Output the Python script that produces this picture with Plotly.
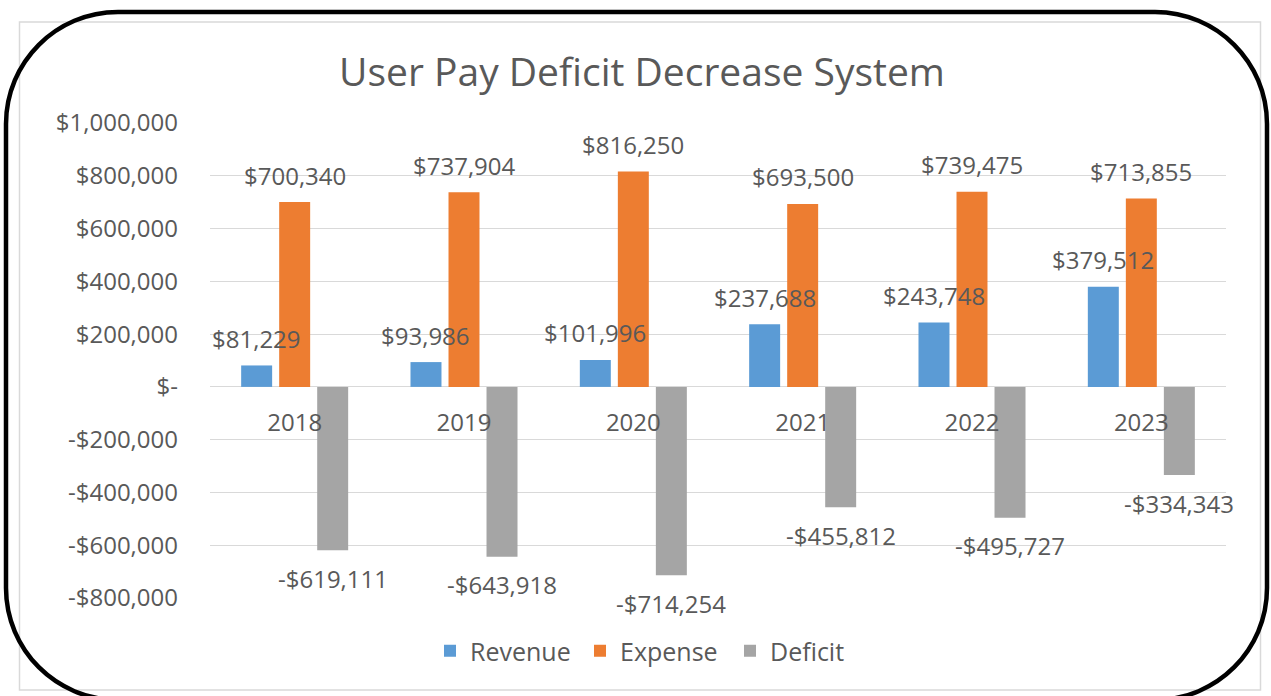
import plotly.graph_objects as go

# ---- data ----
years = ["2018", "2019", "2020", "2021", "2022", "2023"]
revenue = [81229, 93986, 101996, 237688, 243748, 379512]
expense = [700340, 737904, 816250, 693500, 739475, 713855]
deficit = [-619111, -643918, -714254, -455812, -495727, -334343]
y_tick_values = [1000000, 800000, 600000, 400000, 200000, 0,
                 -200000, -400000, -600000, -800000]
y_tick_labels = ["$1,000,000", "$800,000", "$600,000", "$400,000", "$200,000", "$-",
                 "-$200,000", "-$400,000", "-$600,000", "-$800,000"]
series_names = ["Revenue", "Expense", "Deficit"]
series_colors = ["#5B9BD5", "#ED7D31", "#A5A5A5"]
series_values = [revenue, expense, deficit]

# ---- layout constants ----
W, H = 1271, 696
ML, MR, MT, MB = 210, 45, 123, 98
PW, PH = W - ML - MR, H - MT - MB
Y_MIN, Y_MAX = -800000, 1000000
BARGAP = 0.3265
BARGROUPGAP = 0.185
SLOT = (1 - BARGAP) / 3
FONT = "Open Sans"
TXT = "#595959"
GRID = "#D9D9D9"


def money(v):
    return ("-$" if v < 0 else "$") + f"{abs(v):,}"


def px_x(p):
    return (p - ML) / PW


def px_y(p):
    return (H - MB - p) / PH


fig = go.Figure()
xs = list(range(len(years)))
for name, vals, color in zip(series_names, series_values, series_colors):
    fig.add_trace(go.Bar(
        x=xs, y=vals, name=name,
        marker=dict(color=color, line=dict(width=0)),
    ))

annotations = []
for k, vals in enumerate(series_values):
    for i, v in enumerate(vals):
        annotations.append(dict(
            x=i + (k - 1) * SLOT, y=v, xref="x", yref="y",
            text=money(v), showarrow=False,
            yshift=27 if v >= 0 else -28, yanchor="middle",
            font=dict(family=FONT, size=24, color=TXT),
        ))


def rounded_rect_path(x0, y0, x1, y1, r):
    k = 0.5523 * r
    pts = []
    pts.append(f"M{px_x(x0 + r)},{px_y(y0)}")
    pts.append(f"L{px_x(x1 - r)},{px_y(y0)}")
    pts.append(f"C{px_x(x1 - r + k)},{px_y(y0)} {px_x(x1)},{px_y(y0 + r - k)} {px_x(x1)},{px_y(y0 + r)}")
    pts.append(f"L{px_x(x1)},{px_y(y1 - r)}")
    pts.append(f"C{px_x(x1)},{px_y(y1 - r + k)} {px_x(x1 - r + k)},{px_y(y1)} {px_x(x1 - r)},{px_y(y1)}")
    pts.append(f"L{px_x(x0 + r)},{px_y(y1)}")
    pts.append(f"C{px_x(x0 + r - k)},{px_y(y1)} {px_x(x0)},{px_y(y1 - r + k)} {px_x(x0)},{px_y(y1 - r)}")
    pts.append(f"L{px_x(x0)},{px_y(y0 + r)}")
    pts.append(f"C{px_x(x0)},{px_y(y0 + r - k)} {px_x(x0 + r - k)},{px_y(y0)} {px_x(x0 + r)},{px_y(y0)}")
    pts.append("Z")
    return " ".join(pts)


shapes = [
    dict(type="rect", xref="paper", yref="paper",
         x0=px_x(19.5), x1=px_x(1260.5), y0=px_y(22), y1=px_y(690),
         line=dict(color=GRID, width=1.5), layer="below"),
    dict(type="path", xref="paper", yref="paper",
         path=rounded_rect_path(6, 12, 1267, 700, 112),
         line=dict(color="black", width=4.5), layer="above"),
]

fig.update_layout(
    width=W, height=H,
    margin=dict(l=ML, r=MR, t=MT, b=MB, pad=0),
    paper_bgcolor="white", plot_bgcolor="white",
    barmode="group", bargap=BARGAP, bargroupgap=BARGROUPGAP,
    font=dict(family=FONT, size=24, color=TXT),
    title=dict(text="User Pay Deficit Decrease System",
               font=dict(family=FONT, size=39, color=TXT),
               xref="container", x=642 / W, xanchor="center",
               yref="container", y=1 - 72 / H, yanchor="middle"),
    xaxis=dict(range=[-0.5, len(years) - 0.5], tickmode="array",
               tickvals=xs, ticktext=years,
               anchor="free", position=(0 - Y_MIN) / (Y_MAX - Y_MIN),
               showgrid=False, zeroline=False, showline=False, ticks="",
               ticklabelstandoff=19,
               tickfont=dict(family=FONT, size=24, color=TXT)),
    yaxis=dict(range=[Y_MIN, Y_MAX], tickmode="array",
               tickvals=y_tick_values, ticktext=y_tick_labels,
               showgrid=True, gridcolor=GRID, gridwidth=1.3,
               zeroline=True, zerolinecolor=GRID, zerolinewidth=1.3,
               showline=False, ticks="", ticklabelstandoff=31,
               tickfont=dict(family=FONT, size=24, color=TXT)),
    legend=dict(orientation="h", x=0.5 + (655 - (ML + PW / 2)) / PW, xanchor="center",
                y=-(651 - (H - MB)) / PH, yanchor="middle",
                font=dict(family=FONT, size=25, color=TXT),
                entrywidth=105, entrywidthmode="pixels",
                bgcolor="rgba(0,0,0,0)"),
    annotations=annotations,
    shapes=shapes,
    showlegend=True,
)

fig.write_html("out.html", config={"displayModeBar": False},
               post_script="document.body.style.margin='0';")
